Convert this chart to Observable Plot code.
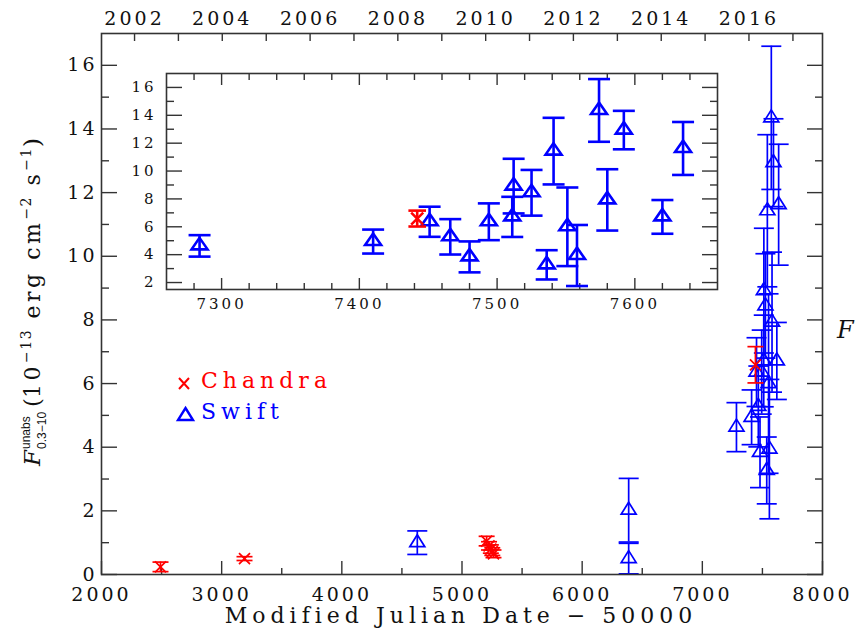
<!DOCTYPE html>
<html><head><meta charset="utf-8">
<script src="https://cdn.jsdelivr.net/npm/d3@7"></script>
<script src="https://cdn.jsdelivr.net/npm/@observablehq/plot@0.6"></script>
<style>
body{margin:0;background:#fff;}
#wrap{position:relative;width:855px;height:631px;overflow:hidden;background:#fff;}
#inset{position:absolute;left:100px;top:60px;}
.main g[aria-label*="tick label"] text{letter-spacing:3px;}
.ins g[aria-label*="tick label"] text{letter-spacing:3px;}
.leg{position:absolute;font-family:"DejaVu Serif";font-size:22px;letter-spacing:5px;white-space:nowrap;}
</style></head><body><div id="wrap"></div>
<script>
// ---- data (MJD - 50000, flux in 1e-13 erg/cm2/s) ----
const chandraMJD  = [2491, 3190, 5205, 5225, 5240, 5252, 5262, 7442];
const chandraFlux = [0.24, 0.50, 1.05, 0.90, 0.80, 0.72, 0.65, 6.59];
const chandraErr  = [0.15, 0.06, 0.15, 0.13, 0.13, 0.12, 0.12, 0.57];

const swiftMJD  = [4628, 6387, 6387, 7284, 7410, 7451, 7466, 7480, 7494, 7511, 7512, 7525, 7536, 7541, 7551, 7558, 7574, 7580, 7592, 7620, 7635];
const swiftFlux = [1.00, 2.02, 0.50, 4.63, 4.94, 6.36, 5.28, 3.84, 6.36, 6.71, 8.92, 8.44, 3.27, 11.43, 6.00, 3.94, 14.35, 7.93, 12.94, 6.71, 11.62];
const swiftErr  = [0.37, 1.00, 0.48, 0.77, 0.86, 1.08, 1.27, 1.11, 1.32, 1.44, 1.96, 1.64, 1.05, 2.39, 2.82, 2.19, 2.25, 2.20, 1.38, 1.21, 1.90];

// ---- tick labels ----
const xMajor = [2000, 3000, 4000, 5000, 6000, 7000, 8000];
const xMinor = [2500, 3500, 4500, 5500, 6500, 7500];
const yMajor = [0, 2, 4, 6, 8, 10, 12, 14, 16];
const yMinor = [1, 3, 5, 7, 9, 11, 13, 15];
const yearLabels = [2002, 2004, 2006, 2008, 2010, 2012, 2014, 2016];
const yearTicks = [2002, 2003, 2004, 2005, 2006, 2007, 2008, 2009, 2010, 2011, 2012, 2013, 2014, 2015, 2016, 2017];
const insetXMajor = [7300, 7400, 7500, 7600];
const insetXMinor = [7280, 7320, 7340, 7360, 7380, 7420, 7440, 7460, 7480, 7520, 7540, 7560, 7580, 7620, 7640];
const insetYMajor = [2, 4, 6, 8, 10, 12, 14, 16];
const insetYMinor = [3, 5, 7, 9, 11, 13, 15];

const chandra = chandraMJD.map((m, i) => ({mjd: m, flux: chandraFlux[i], err: chandraErr[i]}));
const swift = swiftMJD.map((m, i) => ({mjd: m, flux: swiftFlux[i], err: swiftErr[i]}));

// calendar year -> MJD-50000
const yearToMJD = y => (Date.UTC(y, 0, 1) - Date.UTC(1858, 10, 17)) / 864e5 - 50000;
const yearLabelMap = new Map(yearLabels.map(y => [yearToMJD(y), String(y)]));
const plain = d => String(d);

// symbols
const cap = w => ({draw(c) { c.moveTo(-w, 0); c.lineTo(w, 0); }});
const tri = (hw, up, down) => ({draw(c) { c.moveTo(0, -up); c.lineTo(hw, down); c.lineTo(-hw, down); c.closePath(); }});
const cross = s => ({draw(c) { c.moveTo(-s, -s); c.lineTo(s, s); c.moveTo(-s, s); c.lineTo(s, -s); }});

const BLUE = "#0000ff", RED = "#ff0000", AX = "#333";

function dataMarks(sw, capW, triSym, crossS) {
  return [
    Plot.ruleX(swift, {x: "mjd", y1: d => d.flux - d.err, y2: d => d.flux + d.err, stroke: BLUE, strokeWidth: sw}),
    Plot.dot(swift, {x: "mjd", y: d => d.flux + d.err, symbol: cap(capW), stroke: BLUE, strokeWidth: sw, fill: "none"}),
    Plot.dot(swift, {x: "mjd", y: d => d.flux - d.err, symbol: cap(capW), stroke: BLUE, strokeWidth: sw, fill: "none"}),
    Plot.dot(swift, {x: "mjd", y: "flux", symbol: triSym, stroke: BLUE, strokeWidth: sw, fill: "none"}),
    Plot.ruleX(chandra, {x: "mjd", y1: d => d.flux - d.err, y2: d => d.flux + d.err, stroke: RED, strokeWidth: sw}),
    Plot.dot(chandra, {x: "mjd", y: d => d.flux + d.err, symbol: cap(capW * 0.8), stroke: RED, strokeWidth: sw, fill: "none"}),
    Plot.dot(chandra, {x: "mjd", y: d => d.flux - d.err, symbol: cap(capW * 0.8), stroke: RED, strokeWidth: sw, fill: "none"}),
    Plot.dot(chandra, {x: "mjd", y: "flux", symbol: cross(crossS), stroke: RED, strokeWidth: sw, fill: "none"})
  ];
}

const main = Plot.plot({
  width: 855, height: 631,
  marginLeft: 101, marginRight: 33, marginTop: 33, marginBottom: 57,
  x: {domain: [2000, 8000]},
  y: {domain: [0, 17]},
  className: "main",
  style: {fontFamily: "DejaVu Serif", fontSize: "19px", color: "#111", background: "transparent", overflow: "visible"},
  marks: [
    Plot.axisX(xMajor, {anchor: "bottom", tickSize: -13, tickPadding: 26, tickFormat: plain, stroke: AX, strokeWidth: 1.4, label: null}),
    Plot.axisX(xMinor, {anchor: "bottom", tickSize: -6, fill: "none", stroke: AX, strokeWidth: 1.4, label: null}),
    Plot.axisX(yearTicks.map(yearToMJD), {anchor: "top", tickSize: -7, fill: "none", stroke: AX, strokeWidth: 1.4, label: null}),
    Plot.axisX(yearLabels.map(yearToMJD), {anchor: "top", tickSize: 0, tickPadding: 9, tickFormat: d => yearLabelMap.get(d), label: null}),
    Plot.axisY(yMajor, {anchor: "left", tickSize: -16, tickPadding: 20, tickFormat: plain, stroke: AX, strokeWidth: 1.4, label: null}),
    Plot.axisY(yMinor, {anchor: "left", tickSize: -8, fill: "none", stroke: AX, strokeWidth: 1.4, label: null}),
    Plot.axisY(yMajor, {anchor: "right", tickSize: -16, fill: "none", stroke: AX, strokeWidth: 1.4, label: null}),
    Plot.axisY(yMinor, {anchor: "right", tickSize: -8, fill: "none", stroke: AX, strokeWidth: 1.4, label: null}),
    ...dataMarks(1.7, 10, tri(7.5, 8, 4), 5.5),
    Plot.frame({stroke: AX, strokeWidth: 1.6})
  ]
});

const inset = Plot.plot({
  width: 640, height: 260,
  marginLeft: 66, marginRight: 23, marginTop: 13, marginBottom: 31,
  x: {domain: [7260, 7660]},
  y: {domain: [1.5, 17]},
  className: "ins",
  style: {fontFamily: "DejaVu Serif", fontSize: "15px", color: "#111", background: "transparent", overflow: "visible"},
  marks: [
    Plot.frame({fill: "white", stroke: "none"}),
    Plot.axisX(insetXMajor, {anchor: "bottom", tickSize: -11, tickPadding: 20, tickFormat: plain, stroke: AX, strokeWidth: 1.4, label: null}),
    Plot.axisX(insetXMinor, {anchor: "bottom", tickSize: -6, fill: "none", stroke: AX, strokeWidth: 1.4, label: null}),
    Plot.axisX(insetXMajor, {anchor: "top", tickSize: -11, fill: "none", stroke: AX, strokeWidth: 1.4, label: null}),
    Plot.axisX(insetXMinor, {anchor: "top", tickSize: -6, fill: "none", stroke: AX, strokeWidth: 1.4, label: null}),
    Plot.axisY(insetYMajor, {anchor: "left", tickSize: -16, tickPadding: 26, tickFormat: plain, stroke: AX, strokeWidth: 1.4, label: null}),
    Plot.axisY(insetYMinor, {anchor: "left", tickSize: -8, fill: "none", stroke: AX, strokeWidth: 1.4, label: null}),
    Plot.axisY(insetYMajor, {anchor: "right", tickSize: -16, fill: "none", stroke: AX, strokeWidth: 1.4, label: null}),
    Plot.axisY(insetYMinor, {anchor: "right", tickSize: -8, fill: "none", stroke: AX, strokeWidth: 1.4, label: null}),
    ...dataMarks(2.6, 11, tri(8, 8, 3.5), 6),
    Plot.frame({stroke: AX, strokeWidth: 1.6})
  ]
});
inset.id = "inset";

const wrap = document.getElementById("wrap");
wrap.appendChild(main);
wrap.appendChild(inset);

// x-axis title
const svg = d3.select(main);
svg.append("text").attr("x", 461).attr("y", 623).attr("text-anchor", "middle")
  .attr("font-family", "DejaVu Serif").attr("font-size", 22).style("letter-spacing", "5px").attr("fill", "#111")
  .text("Modified Julian Date \u2212 50000");

// y-axis title as one text with tspans
const tmp = svg.append("text").attr("font-family", "Liberation Sans").attr("font-size", 12).text("unabs");
const wUn = tmp.node().getComputedTextLength();
tmp.text("0.3\u221210");
const wSub = tmp.node().getComputedTextLength();
tmp.remove();

const yl = svg.append("text").attr("transform", "translate(40,302) rotate(-90)")
  .attr("text-anchor", "middle").attr("font-family", "DejaVu Serif").attr("fill", "#111").style("letter-spacing", "0px");
const ts = (str, o) => {
  const t = yl.append("tspan").text(str).attr("font-size", o.size);
  if (o.dx != null) t.attr("dx", o.dx);
  if (o.dy != null) t.attr("dy", o.dy);
  if (o.style) t.attr("font-style", o.style);
  if (o.family) t.attr("font-family", o.family);
  t.style("letter-spacing", (o.ls || 0) + "px");
  return t;
};
ts("F", {size: 23, style: "italic"});
ts("unabs", {size: 12, family: "Liberation Sans", dx: 1, dy: -10});
ts("0.3\u221210", {size: 12, family: "Liberation Sans", dx: -wUn, dy: 16});
ts("(", {size: 23, dx: 5 + Math.max(0, wUn - wSub), dy: -6});
ts("10", {size: 22, ls: 3.5});
ts("\u221213", {size: 14, dy: -9, ls: 1.5});
ts(" erg cm", {size: 22, dy: 9, ls: 3.5});
ts("\u22122", {size: 14, dy: -9, ls: 1.5});
ts(" s", {size: 22, dy: 9, ls: 3.5});
ts("\u22121", {size: 14, dy: -9, ls: 1.5});
ts(")", {size: 23, dy: 9});

// legend
const leg = d3.select(wrap);
const legSvg = leg.append("svg").attr("width", 30).attr("height", 60)
  .style("position", "absolute").style("left", "170px").style("top", "370px");
legSvg.append("path").attr("d", "M9,8L19,19M9,19L19,8").attr("stroke", RED).attr("stroke-width", 2).attr("fill", "none");
legSvg.append("path").attr("d", "M15.5,38L23,50L8,50Z").attr("stroke", BLUE).attr("stroke-width", 2.4).attr("fill", "none");
leg.append("div").attr("class", "leg").style("left", "201px").style("top", "368px").style("color", RED).text("Chandra");
leg.append("div").attr("class", "leg").style("left", "201px").style("top", "399px").style("color", BLUE).text("Swift");

// page-edge fragment at right
leg.append("div").style("position", "absolute").style("left", "837px").style("top", "316px")
  .style("font-family", "DejaVu Serif").style("font-style", "italic").style("font-size", "24px").style("color", "#111").text("F");
</script></body></html>
